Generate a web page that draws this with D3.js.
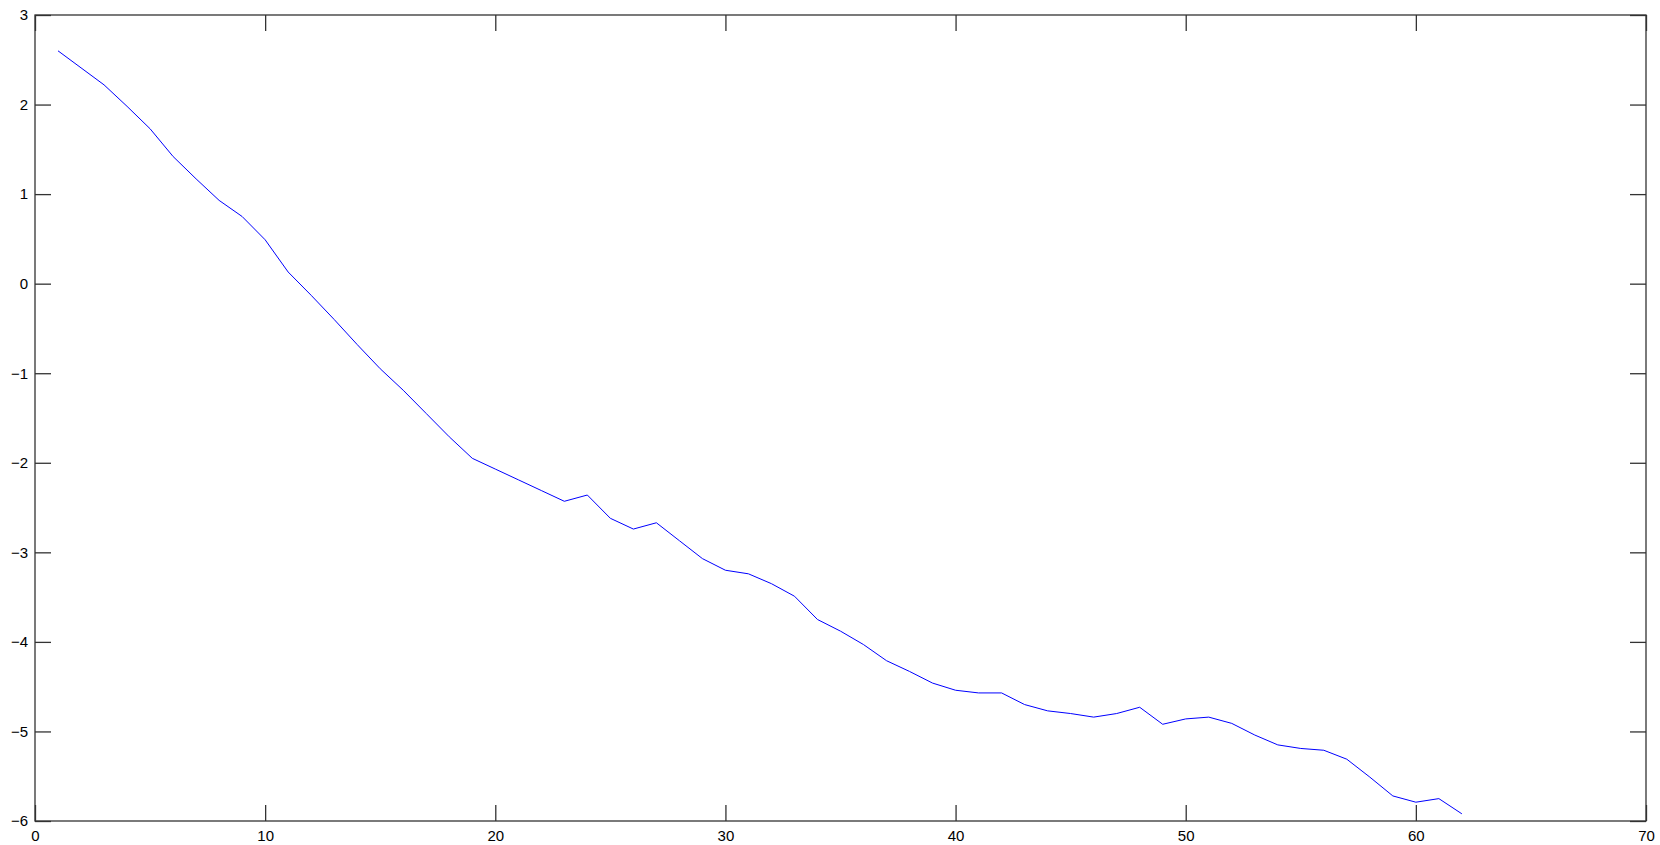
<!DOCTYPE html>
<html>
<head>
<meta charset="utf-8">
<script src="https://cdn.jsdelivr.net/npm/d3@7"></script>
<style>
  html, body { margin: 0; padding: 0; background: #fff; }
  svg { display: block; }
  .tick text { font-family: "Liberation Sans", Arial, sans-serif; font-size: 15px; fill: #000; }
</style>
</head>
<body>
<svg id="chart" width="1660" height="845"></svg>
<script>
// Series: sample index and value
const xIndex = d3.range(1, 63);
const yValues = [
  2.60, 2.41, 2.22, 1.98, 1.73, 1.42, 1.17, 0.93, 0.75, 0.49,
  0.13, -0.13, -0.40, -0.68, -0.95, -1.19, -1.45, -1.71, -1.95, -2.07,
  -2.19, -2.31, -2.43, -2.36, -2.62, -2.74, -2.67, -2.87, -3.07, -3.20,
  -3.24, -3.35, -3.49, -3.75, -3.88, -4.03, -4.21, -4.33, -4.46, -4.54,
  -4.57, -4.57, -4.70, -4.77, -4.80, -4.84, -4.80, -4.73, -4.92, -4.86,
  -4.84, -4.91, -5.04, -5.15, -5.19, -5.21, -5.31, -5.51, -5.72, -5.79,
  -5.75, -5.92
];
const xTicks = [0, 10, 20, 30, 40, 50, 60, 70];
const yTicks = [-6, -5, -4, -3, -2, -1, 0, 1, 2, 3];

const plot = { left: 35, right: 1646, top: 15, bottom: 821 };
const svg = d3.select("#chart");

const x = d3.scaleLinear().domain([0, 70]).range([plot.left, plot.right]);
const y = d3.scaleLinear().domain([-6, 3]).range([plot.bottom, plot.top]);

const axisColor = "#333";
const tickLen = 16;

// Bottom axis with labels, ticks pointing inward
const gB = svg.append("g").attr("transform", `translate(0,${plot.bottom})`)
  .call(d3.axisBottom(x).tickValues(xTicks).tickSizeInner(-tickLen).tickSizeOuter(0).tickPadding(9).tickFormat(d3.format("d")));
// Left axis with labels
const gL = svg.append("g").attr("transform", `translate(${plot.left},0)`)
  .call(d3.axisLeft(y).tickValues(yTicks).tickSizeInner(-tickLen).tickSizeOuter(0).tickPadding(7).tickFormat(d3.format("d")));
// Top and right mirrored ticks
const gT = svg.append("g").attr("transform", `translate(0,${plot.top})`)
  .call(d3.axisTop(x).tickValues(xTicks).tickSizeInner(-tickLen).tickSizeOuter(0).tickFormat(""));
const gR = svg.append("g").attr("transform", `translate(${plot.right},0)`)
  .call(d3.axisRight(y).tickValues(yTicks).tickSizeInner(-tickLen).tickSizeOuter(0).tickFormat(""));

[gB, gL, gT, gR].forEach(g => {
  g.select(".domain").remove();
  g.selectAll(".tick line").attr("stroke", axisColor).attr("stroke-width", 1.3);
});
gB.selectAll(".tick text").attr("dy", "0.71em");

// Frame
svg.append("rect")
  .attr("x", plot.left).attr("y", plot.top)
  .attr("width", plot.right - plot.left).attr("height", plot.bottom - plot.top)
  .attr("fill", "none").attr("stroke", axisColor).attr("stroke-width", 1.3);

// Data line
const line = d3.line().x((d, i) => x(xIndex[i])).y(d => y(d));
svg.append("path")
  .datum(yValues)
  .attr("d", line)
  .attr("fill", "none")
  .attr("stroke", "#0000ff")
  .attr("stroke-width", 1);
</script>
</body>
</html>
